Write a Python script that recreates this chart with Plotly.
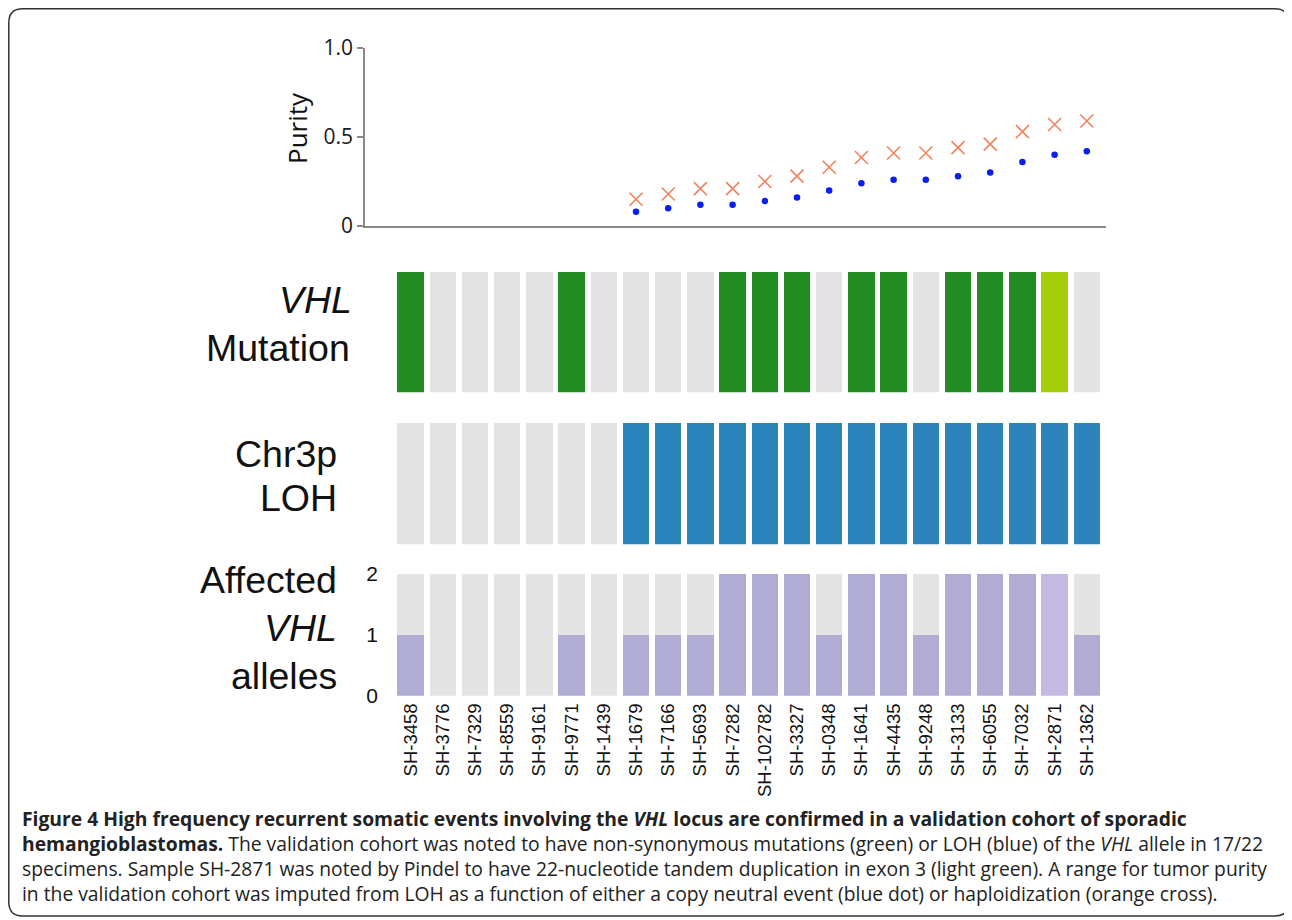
import plotly.graph_objects as go

# Page body has an 8px margin; figure coordinates below are given in screen pixels
OFF = 8
W, H = 1284, 912

samples = ["SH-3458", "SH-3776", "SH-7329", "SH-8559", "SH-9161", "SH-9771", "SH-1439",
           "SH-1679", "SH-7166", "SH-5693", "SH-7282", "SH-102782", "SH-3327", "SH-0348",
           "SH-1641", "SH-4435", "SH-9248", "SH-3133", "SH-6055", "SH-7032", "SH-2871", "SH-1362"]

# VHL mutation status: 'mut' = non-synonymous, 'dup' = tandem duplication, 'none'
mutation = ["mut", "none", "none", "none", "none", "mut", "none",
            "none", "none", "none", "mut", "mut", "mut", "none",
            "mut", "mut", "none", "mut", "mut", "mut", "dup", "none"]

# Chr3p LOH present (1) / absent (0)
loh = [0, 0, 0, 0, 0, 0, 0,
       1, 1, 1, 1, 1, 1, 1,
       1, 1, 1, 1, 1, 1, 1, 1]

# Affected VHL alleles (0-2)
alleles = [1, 0, 0, 0, 0, 1, 0,
           1, 1, 1, 2, 2, 2, 1,
           2, 2, 1, 2, 2, 2, 2, 1]

# Purity estimates (samples SH-1679 ... SH-1362)
purity_samples = samples[7:]
purity_copy_neutral = [0.08, 0.10, 0.12, 0.12, 0.14, 0.16, 0.20, 0.24,
                       0.26, 0.26, 0.28, 0.30, 0.36, 0.40, 0.42]
purity_haploid = [0.15, 0.18, 0.21, 0.21, 0.25, 0.28, 0.33, 0.385,
                  0.41, 0.41, 0.44, 0.46, 0.53, 0.57, 0.59]

allele_ticks = [0, 1, 2]
purity_ticks = [0, 0.5, 1.0]
purity_ticktext = ["0", "0.5", "1.0"]

GREY = "#e4e4e4"
GREEN = "#228b22"
LGREEN = "#a5ce0a"
BLUE = "#2c84bd"
PURPLE = "#b1acd3"
LPURPLE = "#c4b9e0"

idx = list(range(len(samples)))
p_idx = [samples.index(s) for s in purity_samples]


def fx(px):
    return (px - OFF) / W


def fy(py):
    return 1 - (py - OFF) / H


X0, PITCH = 410.6, 32.2


def xrange_for(a, b):
    return [(a - X0) / PITCH, (b - X0) / PITCH]


mut_colors = [{"mut": GREEN, "dup": LGREEN, "none": GREY}[m] for m in mutation]
loh_colors = [BLUE if v else GREY for v in loh]
allele_colors = [LPURPLE if m == "dup" else PURPLE for m in mutation]
BW = 0.82

fig = go.Figure()

# Purity panel
fig.add_trace(go.Scatter(x=p_idx, y=purity_haploid, mode="markers", xaxis="x", yaxis="y",
                         marker=dict(symbol="x-thin", size=13, line=dict(color="#f3825c", width=1.6)),
                         hoverinfo="skip"))
fig.add_trace(go.Scatter(x=p_idx, y=purity_copy_neutral, mode="markers", xaxis="x", yaxis="y",
                         marker=dict(symbol="circle", size=6.5, color="#0a1ef0"),
                         hoverinfo="skip"))

# Mutation panel
fig.add_trace(go.Bar(x=idx, y=[1] * len(idx), width=BW, marker=dict(color=mut_colors, line_width=0),
                     xaxis="x2", yaxis="y2", hoverinfo="skip"))
# LOH panel
fig.add_trace(go.Bar(x=idx, y=[1] * len(idx), width=BW, marker=dict(color=loh_colors, line_width=0),
                     xaxis="x2", yaxis="y3", hoverinfo="skip"))
# Alleles panel
fig.add_trace(go.Bar(x=idx, y=alleles, width=BW, marker=dict(color=allele_colors, line_width=0),
                     xaxis="x2", yaxis="y4", hoverinfo="skip"))
fig.add_trace(go.Bar(x=idx, y=[2 - a for a in alleles], width=BW, marker=dict(color=GREY, line_width=0),
                     xaxis="x2", yaxis="y4", hoverinfo="skip"))

fig.update_layout(
    width=W, height=H, margin=dict(l=0, r=0, t=0, b=0, autoexpand=False),
    paper_bgcolor="white", plot_bgcolor="white", showlegend=False, barmode="stack", bargap=0,
    xaxis=dict(domain=[fx(365), fx(1106)], range=xrange_for(365, 1106), anchor="y", automargin=False,
               showgrid=False, zeroline=False, showticklabels=False, ticks="",
               showline=True, linecolor="#8a8a8a", linewidth=1.5),
    yaxis=dict(domain=[fy(226), fy(48)], range=[0, 1], anchor="x", automargin=False,
               showgrid=False, zeroline=False, showline=True, linecolor="#8a8a8a", linewidth=1.5,
               ticks="outside", ticklen=6, tickcolor="#8a8a8a", tickwidth=1.5,
               tickvals=purity_ticks, ticktext=purity_ticktext,
               tickfont=dict(family="Open Sans", size=21, color="#1a1a1a")),
    xaxis2=dict(domain=[fx(383), fx(1106)], range=xrange_for(383, 1106), anchor="y4", automargin=False,
                showgrid=False, zeroline=False, showline=False, ticks="",
                tickvals=idx, ticktext=samples, tickangle=-90, ticklabelstandoff=3,
                tickfont=dict(family="Liberation Sans", size=18.5, color="#111")),
    yaxis2=dict(domain=[fy(392.3), fy(271.7)], range=[0, 1], anchor="x2", automargin=False,
                showgrid=False, zeroline=False, showticklabels=False, showline=False),
    yaxis3=dict(domain=[fy(544.3), fy(422.7)], range=[0, 1], anchor="x2", automargin=False,
                showgrid=False, zeroline=False, showticklabels=False, showline=False),
    yaxis4=dict(domain=[fy(695.7), fy(573.7)], range=[0, 2], anchor="x2", automargin=False,
                showgrid=False, zeroline=False, showline=False, ticks="",
                tickvals=allele_ticks, ticklabelstandoff=4,
                tickfont=dict(family="Liberation Sans", size=21, color="#111")),
)

ann = []


def label(text, xr, ycen, size=37.5, anchor="right", fam="Liberation Sans", color="#111", angle=0):
    ann.append(dict(text=text, x=fx(xr), y=fy(ycen), xref="paper", yref="paper",
                    xanchor=anchor, yanchor="middle", showarrow=False, textangle=angle,
                    font=dict(family=fam, size=size, color=color)))


label("Purity", 297, 128, size=26, anchor="center", fam="Open Sans", angle=-90)
label("<i>VHL</i>", 354, 300)
label("Mutation", 352, 348)
label("Chr3p", 339, 454)
label("LOH", 339, 498)
label("Affected", 339, 580)
label("<i>VHL</i>", 339, 628)
label("alleles", 339, 676)

caption = [
    "<b>Figure 4 High frequency recurrent somatic events involving the <i>VHL</i> locus are confirmed in a validation cohort of sporadic</b>",
    "<b>hemangioblastomas.</b> The validation cohort was noted to have non-synonymous mutations (green) or LOH (blue) of the <i>VHL</i> allele in 17/22",
    "specimens. Sample SH-2871 was noted by Pindel to have 22-nucleotide tandem duplication in exon 3 (light green). A range for tumor purity",
    "in the validation cohort was imputed from LOH as a function of either a copy neutral event (blue dot) or haploidization (orange cross).",
]
for i, line in enumerate(caption):
    label(line, 20, 818 + 25 * i, size=19.3, anchor="left", fam="Open Sans", color="#222")

fig.update_layout(annotations=ann)

# Rounded frame
x0, y0, x1, y1, r = 8.8, 8.8, 1289, 916, 14
pts = [("M", x0 + r, y0), ("L", x1 - r, y0), ("Q", x1, y0, x1, y0 + r), ("L", x1, y1 - r),
       ("Q", x1, y1, x1 - r, y1), ("L", x0 + r, y1), ("Q", x0, y1, x0, y1 - r),
       ("L", x0, y0 + r), ("Q", x0, y0, x0 + r, y0)]
path = ""
for p in pts:
    cmd, coords = p[0], p[1:]
    s = " ".join(f"{fx(coords[k]):.5f},{fy(coords[k + 1]):.5f}" for k in range(0, len(coords), 2))
    path += f"{cmd} {s} "
path += "Z"
fig.add_shape(type="path", path=path, xref="paper", yref="paper",
              line=dict(color="#333", width=1.5), fillcolor="rgba(0,0,0,0)", layer="above")

fig.write_html("out.html")
